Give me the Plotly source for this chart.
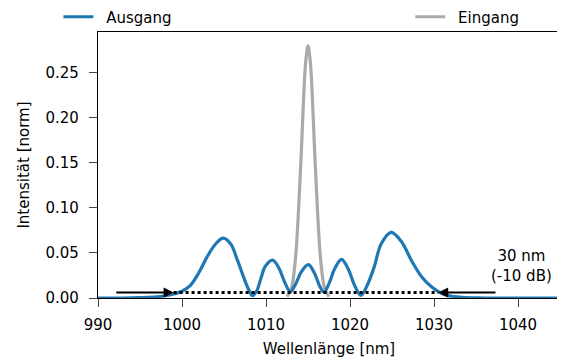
import plotly.graph_objects as go

# Output spectrum (Ausgang)
out_wl = [990, 993, 995, 997, 998, 999, 1000, 1001, 1002, 1003, 1004, 1004.9, 1005.8, 1006.6,
          1007.3, 1007.9, 1008.4, 1008.9, 1009.4, 1009.9, 1010.8, 1011.6, 1012.2, 1012.9,
          1013.5, 1014.2, 1015.05, 1015.8, 1016.4, 1016.9, 1017.5, 1018.2, 1019.0, 1019.8,
          1020.5, 1021.3, 1022.0, 1022.9, 1023.7, 1024.9, 1026.1, 1027.3, 1028.5, 1029.7,
          1031.2, 1033, 1035, 1038, 1045]
out_int = [0.0, 0.0, 0.0004, 0.0012, 0.0025, 0.0045, 0.0075, 0.0140, 0.0280, 0.0460, 0.0600, 0.0665, 0.0600, 0.0420,
           0.0240, 0.0100, 0.0025, 0.0080, 0.0220, 0.0350, 0.0420, 0.0320, 0.0180, 0.0070,
           0.0150, 0.0290, 0.0370, 0.0270, 0.0130, 0.0065, 0.0160, 0.0330, 0.0430, 0.0320,
           0.0150, 0.0028, 0.0130, 0.0350, 0.0600, 0.0730, 0.0630, 0.0420, 0.0240, 0.0125,
           0.0040, 0.0010, 0.0002, 0.0, 0.0]

# Input spectrum (Eingang)
in_wl = [1012.5, 1013.0, 1013.5, 1014.0, 1014.25, 1014.5, 1014.75, 1015.0, 1015.25, 1015.5,
         1015.75, 1016.0, 1016.5, 1017.0, 1017.5]
in_int = [0.0015, 0.010, 0.043, 0.122, 0.172, 0.227, 0.265, 0.280, 0.265, 0.227,
          0.172, 0.122, 0.043, 0.010, 0.0015]

# -10 dB bandwidth marker
band_wl = [999.0, 1030.5]
band_level = [0.006, 0.006]
arrow_tail = [992.0, 1037.5]
band_label = "30 nm<br>(-10 dB)"

x_ticks = [990, 1000, 1010, 1020, 1030, 1040]
y_ticks = [0.00, 0.05, 0.10, 0.15, 0.20, 0.25]

FONT = "DejaVu Sans"
FS = 15
GAP = "\u00a0\u2009"

fig = go.Figure()
fig.add_trace(go.Scatter(x=in_wl, y=in_int, mode="lines", name=GAP + "Eingang",
                         line=dict(color="#aaaaaa", width=3.2, shape="spline", smoothing=1.0),
                         legend="legend2"))
fig.add_trace(go.Scatter(x=out_wl, y=out_int, mode="lines", name=GAP + "Ausgang",
                         line=dict(color="#1f77b4", width=3.2, shape="spline", smoothing=1.0),
                         legend="legend"))
fig.add_trace(go.Scatter(x=band_wl, y=band_level, mode="lines", showlegend=False,
                         line=dict(color="black", width=3, dash="3px,3px")))

for tip, tail in zip(band_wl, arrow_tail):
    fig.add_annotation(x=tip, y=band_level[0], ax=tail, ay=band_level[0],
                       xref="x", yref="y", axref="x", ayref="y",
                       showarrow=True, arrowhead=2, arrowsize=1.0, arrowwidth=2,
                       arrowcolor="black", text="")

fig.add_annotation(x=1040.4, y=0.035, xref="x", yref="y", text=band_label,
                   showarrow=False, font=dict(family=FONT, size=FS, color="black"),
                   align="center")

fig.update_layout(
    width=557, height=353,
    margin=dict(l=90, r=5, t=24, b=63, autoexpand=False),
    paper_bgcolor="white", plot_bgcolor="white",
    font=dict(family=FONT, size=FS, color="black"),
    legend=dict(x=-0.0857, y=1.0564, xanchor="left", yanchor="middle", orientation="h",
                bgcolor="rgba(0,0,0,0)", font=dict(size=FS), itemwidth=30),
    legend2=dict(x=0.676, y=1.0564, xanchor="left", yanchor="middle", orientation="h",
                 bgcolor="rgba(0,0,0,0)", font=dict(size=FS), itemwidth=30),
    xaxis=dict(range=[990, 1045], tickvals=x_ticks, ticks="outside", ticklen=8, tickwidth=1.2,
               tickfont=dict(size=FS), ticklabelstandoff=5,
               showline=True, linecolor="black", linewidth=1.3, mirror=True, showgrid=False,
               zeroline=False, title=dict(text="Wellenlänge [nm]", standoff=10, font=dict(size=FS))),
    yaxis=dict(range=[0, 0.2955], tickvals=y_ticks, tickformat=".2f", ticks="outside", ticklen=8,
               tickfont=dict(size=FS), ticklabelstandoff=7,
               tickwidth=1.2, showline=True, linecolor="black", linewidth=1.3, mirror=True,
               showgrid=False, zeroline=False,
               title=dict(text="Intensität [norm]", standoff=12, font=dict(size=FS))),
)

fig.write_html("out.html")
